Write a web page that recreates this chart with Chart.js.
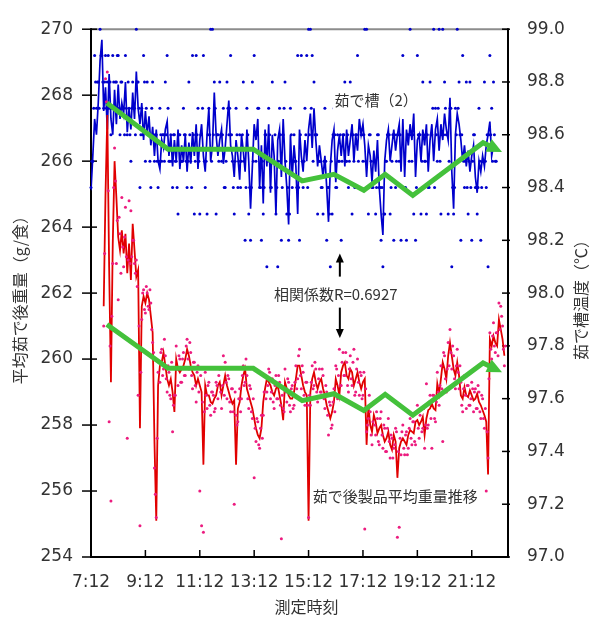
<!DOCTYPE html>
<html lang="ja">
<head>
<meta charset="utf-8">
<title>茹で槽温度と茹で後製品平均重量</title>
<script src="https://cdn.jsdelivr.net/npm/chart.js@4.4.1/dist/chart.umd.min.js"></script>
<style>
  html, body { margin: 0; padding: 0; background: #fff; }
  canvas { display: block; }
</style>
</head>
<body>
<canvas id="chart" width="595" height="621"></canvas>
<script>
// 茹で槽（2）温度: 4分ごとの移動平均
const tankStart = "7:12";
const tankStep = 4;
const tankLine = [
  98.39, 98.52, 98.66, 98.60, 98.72, 98.88, 98.96, 98.69, 98.78, 98.62,
  98.83, 98.66, 98.60, 98.77, 98.64, 98.79, 98.66, 98.72, 98.68, 98.80,
  98.61, 98.70, 98.62, 98.76, 98.66, 98.84, 98.70, 98.64, 98.72, 98.58,
  98.69, 98.60, 98.67, 98.56, 98.63, 98.52, 98.62, 98.50, 98.47, 98.58,
  98.55, 98.62, 98.65, 98.52, 98.60, 98.48, 98.58, 98.50, 98.62, 98.47,
  98.56, 98.50, 98.60, 98.46, 98.57, 98.49, 98.61, 98.52, 98.64, 98.47,
  98.58, 98.64, 98.52, 98.46, 98.60, 98.70, 98.50, 98.56, 98.76, 98.60,
  98.52, 98.58, 98.62, 98.49, 98.55, 98.64, 98.73, 98.56, 98.52, 98.44,
  98.58, 98.52, 98.43, 98.60, 98.54, 98.46, 98.62, 98.50, 98.32, 98.48,
  98.64, 98.58, 98.66, 98.40, 98.56, 98.34, 98.62, 98.48, 98.64, 98.38,
  98.60, 98.52, 98.30, 98.58, 98.62, 98.44, 98.66, 98.50, 98.40, 98.26,
  98.60, 98.44, 98.56, 98.48, 98.30, 98.62, 98.52, 98.46, 98.58, 98.50,
  98.62, 98.68, 98.55, 98.70, 98.58, 98.48, 98.56, 98.50, 98.44, 98.52,
  98.40, 98.27, 98.48, 98.58, 98.62, 98.42, 98.54, 98.60, 98.52, 98.60,
  98.48, 98.62, 98.52, 98.58, 98.64, 98.50, 98.60, 98.54, 98.66, 98.60,
  98.64, 98.56, 98.44, 98.56, 98.52, 98.42, 98.54, 98.46, 98.58, 98.40,
  98.30, 98.22, 98.50, 98.58, 98.62, 98.50, 98.56, 98.62, 98.54, 98.60,
  98.64, 98.46, 98.66, 98.44, 98.62, 98.56, 98.64, 98.58, 98.68, 98.44,
  98.58, 98.60, 98.50, 98.62, 98.56, 98.64, 98.46, 98.58, 98.64, 98.50,
  98.62, 98.66, 98.54, 98.64, 98.58, 98.68, 98.62, 98.58, 98.74, 98.46,
  98.32, 98.60, 98.68, 98.64, 98.58, 98.50, 98.56, 98.48, 98.54, 98.46,
  98.52, 98.56, 98.44, 98.38, 98.50, 98.46, 98.52, 98.48, 98.56, 98.60,
  98.65, 98.52, 98.56, 98.54
];

// 茹で槽（2）温度の測定値（0.1℃刻み）: 2系列を2分ずらして記録
const tankRawStartA = "7:12";
const tankRawA = [
  98.4, 98.5, 98.9, 98.7, 98.8, 99.0, 98.9, 98.7, 98.9, 98.8,
  98.7, 98.6, 98.9, 98.7, 98.8, 98.9, 98.6, 98.8, 98.7, 98.9,
  98.6, 98.7, 98.5, 98.8, 98.7, 99.0, 98.8, 98.4, 98.7, 98.9,
  98.5, 98.8, 98.6, 98.4, 98.8, 98.5, 98.6, 98.4, 98.7, 98.5,
  98.6, 98.8, 98.9, 98.5, 98.6, 98.4, 98.6, 98.5, 98.3, 98.6,
  98.5, 98.7, 98.6, 98.4, 98.8, 98.5, 98.9, 98.3, 98.9, 98.7,
  98.3, 98.6, 98.9, 98.4, 98.3, 98.7, 99.0, 99.0, 98.8, 98.3,
  98.6, 98.8, 98.5, 98.7, 98.4, 98.8, 98.6, 98.9, 98.5, 98.3,
  98.7, 98.4, 98.6, 98.5, 98.8, 98.2, 98.7, 98.3, 98.2, 98.8,
  98.9, 98.5, 98.7, 98.4, 98.2, 98.3, 98.6, 98.1, 98.7, 98.4,
  98.8, 98.5, 98.3, 98.1, 98.7, 98.2, 98.6, 98.8, 98.3, 98.2,
  98.7, 98.4, 98.6, 98.5, 98.9, 98.2, 98.9, 98.4, 98.7, 98.9,
  99.0, 99.0, 98.9, 98.8, 98.6, 98.3, 98.5, 98.4, 98.3, 98.7,
  98.2, 98.4, 98.1, 98.3, 98.7, 98.4, 98.6, 98.5, 98.2, 98.6,
  98.8, 98.5, 98.4, 98.8, 98.3, 98.5, 98.6, 98.9, 98.4, 98.6,
  98.5, 99.0, 99.0, 98.3, 98.6, 98.4, 98.5, 98.3, 98.6, 98.4,
  98.2, 98.1, 98.3, 98.5, 98.6, 98.3, 98.5, 98.2, 98.4, 98.6,
  98.5, 98.2, 98.9, 98.4, 98.2, 98.6, 99.0, 98.5, 98.3, 98.2,
  98.9, 98.6, 98.3, 98.8, 98.5, 98.3, 98.4, 98.8, 98.6, 99.0,
  98.7, 98.5, 99.0, 98.3, 99.0, 98.8, 98.6, 98.3, 98.7, 98.1,
  98.3, 98.7, 99.0, 98.8, 98.2, 98.9, 98.4, 98.8, 98.3, 98.8,
  98.2, 98.6, 98.4, 98.3, 98.7, 98.2, 98.5, 98.8, 98.4, 98.1,
  98.9, 98.7, 98.8, 98.5
];
const tankRawStartB = "7:14";
const tankRawB = [
  98.5, 98.7, 98.8, 98.8, 98.7, 98.9, 98.8, 98.8, 98.7, 98.9,
  98.8, 98.7, 98.8, 98.8, 98.9, 98.7, 98.8, 98.7, 98.6, 98.7,
  98.8, 98.6, 98.7, 98.7, 98.6, 98.8, 98.7, 98.6, 98.6, 98.8,
  98.7, 98.6, 98.5, 98.7, 98.6, 98.6, 98.5, 98.5, 98.6, 98.6,
  98.5, 98.6, 98.7, 98.5, 98.5, 98.6, 98.5, 98.4, 98.6, 98.5,
  98.5, 98.6, 98.5, 98.5, 98.6, 98.4, 98.6, 98.5, 98.6, 98.5,
  98.6, 98.7, 98.5, 98.5, 98.6, 98.6, 98.5, 98.6, 98.7, 98.6,
  98.5, 98.6, 98.6, 98.4, 98.5, 98.7, 98.7, 98.6, 98.4, 98.5,
  98.6, 98.5, 98.4, 98.6, 98.5, 98.4, 98.6, 98.4, 98.4, 98.5,
  98.6, 98.6, 98.7, 98.4, 98.5, 98.4, 98.6, 98.5, 98.6, 98.4,
  98.5, 98.6, 98.4, 98.5, 98.6, 98.4, 98.7, 98.5, 98.4, 98.3,
  98.6, 98.5, 98.5, 98.4, 98.4, 98.6, 98.5, 98.5, 98.6, 98.4,
  98.6, 98.7, 98.5, 98.6, 98.6, 98.5, 98.5, 98.4, 98.5, 98.5,
  98.4, 98.3, 98.5, 98.6, 98.6, 98.4, 98.5, 98.6, 98.5, 98.6,
  98.5, 98.6, 98.5, 98.6, 98.6, 98.4, 98.6, 98.5, 98.7, 98.6,
  98.6, 98.5, 98.4, 98.6, 98.5, 98.4, 98.5, 98.4, 98.6, 98.4,
  98.4, 98.3, 98.5, 98.6, 98.6, 98.4, 98.6, 98.6, 98.5, 98.6,
  98.6, 98.4, 98.7, 98.4, 98.6, 98.5, 98.6, 98.6, 98.7, 98.4,
  98.6, 98.6, 98.5, 98.6, 98.5, 98.6, 98.4, 98.6, 98.7, 98.4,
  98.6, 98.7, 98.5, 98.6, 98.6, 98.7, 98.6, 98.5, 98.7, 98.4,
  98.4, 98.6, 98.7, 98.6, 98.6, 98.5, 98.5, 98.4, 98.5, 98.4,
  98.5, 98.6, 98.4, 98.4, 98.5, 98.4, 98.5, 98.5, 98.6, 98.6,
  98.6, 98.5, 98.6, 98.5
];

// 茹で後製品平均重量: 4分ごとの移動平均
const weightStart = "7:40";
const weightStep = 4;
const weightLine = [
  261.6, 265.0, 267.4, 262.8, 259.3, 263.5, 266.0, 264.9, 263.7, 263.3,
  263.9, 263.2, 263.8, 262.6, 263.5, 262.4, 264.1, 263.3, 262.5, 262.7,
  257.9, 261.6, 261.9, 261.7, 262.0, 261.8, 261.3, 260.8, 257.5, 255.1,
  259.2, 259.8, 259.9, 260.2, 259.8, 259.4, 259.2, 259.4, 259.0, 258.4,
  260.0, 259.7, 259.6, 259.7, 259.8, 260.0, 260.3, 260.1, 259.8, 259.6,
  259.5, 259.2, 259.4, 259.2, 259.0, 256.8, 259.2, 258.9, 258.9, 258.7,
  258.65, 258.8, 258.9, 259.2, 259.3, 258.9, 259.2, 259.5, 259.2, 259.0,
  258.8, 258.65, 258.75, 256.8, 258.5, 258.7, 259.2, 259.5, 259.7, 259.1,
  258.9, 258.7, 258.5, 258.2, 257.9, 257.7, 257.6, 257.9, 258.7, 259.1,
  259.4, 259.3, 259.2, 259.0, 258.9, 259.1, 259.2, 258.9, 258.6, 258.15,
  259.3, 259.1, 258.9, 258.8, 258.8, 259.0, 259.4, 259.8, 259.8, 259.5,
  259.2, 259.0, 258.9, 255.1, 259.0, 259.4, 259.6, 259.3, 259.1, 259.3,
  259.4, 259.1, 258.9, 258.6, 258.4, 258.2, 258.4, 258.7, 259.4, 259.2,
  258.9, 259.6, 259.8, 259.9, 259.5, 259.4, 259.7, 259.6, 259.2, 259.4,
  259.6, 259.3, 259.1, 259.3, 259.4, 257.4, 258.6, 258.0, 257.8, 258.3,
  258.1, 257.75, 257.9, 258.0, 257.7, 257.5, 257.6, 257.8, 257.4, 257.25,
  257.7, 257.5, 256.4, 257.3, 257.5, 257.6, 257.5, 257.4, 257.7, 257.85,
  257.8, 257.75, 258.1, 258.15, 258.0, 258.1, 258.25, 257.7, 258.2, 258.45,
  258.5, 258.65, 258.5, 258.45, 259.25, 258.95, 259.4, 259.9, 259.7, 259.4,
  260.1, 260.5, 260.1, 259.7, 259.5, 259.9, 259.5, 258.9, 258.8, 259.15,
  258.9, 258.85, 259.05, 258.9, 258.75, 258.8, 258.95, 258.7, 258.6, 258.45,
  258.3, 258.1, 256.5, 260.6, 260.4, 260.7, 260.5, 260.4, 261.2, 260.9,
  260.6, 260.1
];

// 茹で後製品重量の測定値: 2系列を2分ずらして記録
const weightRawStartA = "7:40";
const weightRawA = [
  261.0, 268.5, 268.7, 258.1, 255.7, 262.9, 266.4, 262.9, 261.8, 263.8,
  264.9, 262.8, 264.6, 257.6, 264.8, 264.5, 263.6, 262.9, 263.0, 258.9,
  254.95, 261.2, 262.1, 261.4, 262.0, 261.5, 261.7, 260.5, 256.7, 255.2,
  259.6, 259.3, 260.3, 259.7, 260.1, 259.0, 259.6, 258.8, 257.8, 258.9,
  260.4, 259.2, 260.0, 259.3, 260.2, 259.5, 260.6, 259.7, 260.2, 259.1,
  259.9, 258.7, 259.8, 256.0, 254.95, 254.75, 259.6, 258.5, 259.3, 258.3,
  259.0, 258.4, 259.3, 258.8, 259.7, 258.5, 260.1, 259.9, 258.8, 259.4,
  258.4, 259.1, 255.6, 258.3, 258.1, 259.1, 258.8, 259.8, 259.3, 259.5,
  258.5, 259.1, 258.2, 256.4, 257.5, 258.1, 257.3, 258.3, 258.3, 259.5,
  259.0, 259.7, 258.8, 259.4, 258.5, 259.5, 258.8, 259.3, 254.55, 258.5,
  259.7, 258.7, 259.3, 258.4, 259.2, 258.6, 259.8, 259.4, 260.3, 259.1,
  259.6, 258.6, 259.3, 255.2, 258.6, 259.8, 259.2, 259.7, 258.7, 259.7,
  259.0, 259.5, 258.5, 259.0, 257.7, 258.6, 258.0, 259.1, 259.8, 258.8,
  260.3, 259.2, 260.2, 259.5, 259.9, 259.0, 260.1, 259.2, 260.3, 259.0,
  260.0, 258.9, 259.5, 258.9, 254.85, 257.8, 258.2, 258.4, 257.4, 258.7,
  257.7, 258.2, 257.4, 258.4, 257.3, 257.9, 257.2, 258.2, 257.0, 257.6,
  257.3, 257.9, 254.6, 254.9, 257.1, 258.0, 257.1, 257.8, 257.3, 258.2,
  257.4, 258.1, 257.4, 258.6, 257.6, 258.5, 257.9, 257.3, 259.25, 258.0,
  258.9, 257.3, 258.9, 258.1, 259.6, 258.6, 259.8, 257.5, 260.1, 259.0,
  260.5, 260.9, 259.7, 260.1, 259.1, 260.3, 259.1, 259.3, 258.4, 259.5,
  258.5, 259.2, 258.6, 259.3, 258.4, 259.1, 258.5, 259.0, 258.2, 258.8,
  257.9, 256.0, 257.0, 260.8, 260.0, 261.1, 260.2, 260.8, 261.7, 261.6,
  261.0, 259.8
];
const weightRawStartB = "7:42";
const weightRawB = [
  263.2, 267.8, 265.1, 260.4, 261.3, 265.2, 265.4, 264.2, 264.3, 262.6,
  263.4, 263.7, 263.1, 263.0, 262.9, 263.1, 263.6, 262.6, 262.2, 261.0,
  259.6, 262.0, 261.5, 262.2, 261.6, 262.1, 260.9, 260.2, 255.9, 257.6,
  259.9, 260.2, 259.5, 260.6, 259.4, 259.8, 258.9, 259.9, 258.6, 258.9,
  259.7, 260.1, 259.3, 260.0, 259.5, 260.4, 260.0, 260.5, 259.5, 259.9,
  259.2, 259.6, 259.0, 259.5, 258.7, 258.4, 258.9, 259.2, 258.6, 259.0,
  258.9, 258.5, 259.2, 259.5, 259.0, 259.2, 258.9, 259.3, 259.5, 258.7,
  259.1, 258.4, 259.0, 258.0, 258.8, 258.4, 259.5, 259.2, 260.0, 258.8,
  259.2, 258.4, 258.8, 257.9, 258.2, 257.4, 257.9, 257.6, 259.0, 258.8,
  259.2, 259.6, 259.0, 258.7, 259.2, 258.8, 259.5, 258.6, 258.9, 258.4,
  259.0, 259.4, 258.6, 259.1, 258.5, 259.3, 259.1, 260.1, 259.5, 259.8,
  258.9, 259.3, 258.6, 258.9, 259.3, 259.1, 259.9, 259.0, 259.4, 259.0,
  259.7, 258.8, 259.2, 258.3, 258.7, 257.9, 258.7, 258.4, 259.7, 259.5,
  259.2, 259.9, 259.5, 260.2, 259.2, 259.7, 259.4, 259.9, 258.9, 259.7,
  259.3, 259.6, 258.8, 259.6, 259.1, 258.0, 258.9, 257.7, 258.1, 258.0,
  258.4, 257.5, 258.2, 257.7, 258.0, 257.2, 257.9, 257.5, 257.7, 257.0,
  257.4, 257.8, 257.2, 257.6, 257.8, 257.3, 257.7, 257.1, 257.9, 257.6,
  258.1, 257.5, 258.4, 257.9, 258.3, 257.8, 258.5, 258.0, 257.9, 258.7,
  258.2, 258.9, 258.2, 258.7, 259.0, 259.2, 259.1, 260.2, 259.4, 259.7,
  259.8, 260.2, 260.4, 259.4, 259.8, 259.6, 259.8, 258.6, 259.1, 258.9,
  259.2, 258.6, 258.8, 259.1, 259.0, 258.5, 259.2, 258.4, 258.9, 258.2,
  258.5, 257.8, 259.4, 260.3, 260.7, 260.4, 260.8, 260.1, 260.9, 261.3,
  260.3, 260.4
];
const rawStep = 4;

// 傾向線（緑）
const trendTimes = ["7:47", "10:02", "13:10", "14:58", "16:08", "17:14", "18:01", "19:02", "21:37", "22:01"];
const tankTrend = [98.72, 98.545, 98.545, 98.425, 98.45, 98.39, 98.45, 98.37, 98.57, 98.55];
const weightTrend = [261.05, 259.72, 259.72, 258.74, 258.95, 258.44, 258.93, 258.30, 259.88, 259.72];

// 目盛り
const timeTicks = ["7:12", "9:12", "11:12", "13:12", "15:12", "17:12", "19:12", "21:12"];
const weightTicks = [254, 256, 258, 260, 262, 264, 266, 268, 270];
const tempTicks = [97.0, 97.2, 97.4, 97.6, 97.8, 98.0, 98.2, 98.4, 98.6, 98.8, 99.0];
const timeMin = "7:12";
const timeMax = "22:32";

const toMin = t => { const [h, m] = t.split(":").map(Number); return h * 60 + m; };
const hhmm = v => Math.floor(v / 60) + ":" + String(Math.round(v % 60)).padStart(2, "0");
const series = (start, step, values) => values.map((v, i) => ({ x: toMin(start) + i * step, y: v }));
const pairs = (times, values) => values.map((v, i) => ({ x: toMin(times[i]), y: v }));

// 注記（データ座標で配置）
const notes = [
  { text: "茹で槽（2）", at: "17:41", value: 98.73, axis: "t" },
  { text: "相関係数R=0.6927", at: "16:12", value: 261.97, axis: "w" },
  { text: "茹で後製品平均重量推移", at: "18:23", value: 255.84, axis: "w" }
];
const pointers = [
  { at: "16:21", from: 262.5, to: 263.2 },
  { at: "16:21", from: 261.56, to: 260.64 }
];

const GREEN = "#44c13b";
const BLUE = "#0000cc";
const RED = "#e10000";
const PINK = "#ec1b7f";
const TEXT = "#333";
const CJK = '"Noto Sans CJK JP", sans-serif';
const NUM = '"DejaVu Sans", sans-serif';

function seg(ctx, x1, y1, x2, y2) {
  ctx.beginPath();
  ctx.moveTo(x1, y1);
  ctx.lineTo(x2, y2);
  ctx.stroke();
}

const decor = {
  id: "decor",
  beforeDatasetsDraw(chart) {
    const { ctx, chartArea: a, scales } = chart;
    ctx.save();
    ctx.lineWidth = 2;
    ctx.strokeStyle = "#8c8c8c";
    seg(ctx, a.left, a.top, a.right, a.top);
    ctx.strokeStyle = "#000";
    seg(ctx, a.left, a.top - 1, a.left, a.bottom + 1);
    seg(ctx, a.right, a.top - 1, a.right, a.bottom + 1);
    seg(ctx, a.left - 1, a.bottom, a.right + 1, a.bottom);
    ctx.lineWidth = 1.5;
    weightTicks.forEach(v => {
      const y = scales.w.getPixelForValue(v);
      seg(ctx, a.left - 9, y, a.left + 6, y);
    });
    tempTicks.forEach(v => {
      const y = scales.t.getPixelForValue(v);
      seg(ctx, a.right - 6, y, a.right + 2, y);
    });
    timeTicks.forEach(t => {
      const x = scales.x.getPixelForValue(toMin(t));
      seg(ctx, x, a.bottom, x, a.bottom - 7);
    });
    ctx.restore();
  },
  afterDatasetsDraw(chart) {
    const { ctx, chartArea: a, scales } = chart;
    ctx.save();

    // 傾向線の矢じり
    chart.data.datasets.forEach((ds, i) => {
      if (!ds.arrow) return;
      const pts = chart.getDatasetMeta(i).data;
      const p = pts[pts.length - 1], q = pts[pts.length - 2];
      const ang = Math.atan2(p.y - q.y, p.x - q.x);
      ctx.save();
      ctx.translate(p.x, p.y);
      ctx.rotate(ang);
      ctx.beginPath();
      ctx.moveTo(9, 0);
      ctx.lineTo(-6, -7);
      ctx.lineTo(-6, 7);
      ctx.closePath();
      ctx.fillStyle = ds.borderColor;
      ctx.fill();
      ctx.restore();
    });

    // 注記ラベル（白地）
    ctx.font = "15px " + CJK;
    ctx.textAlign = "center";
    ctx.textBaseline = "middle";
    notes.forEach(n => {
      const x = scales.x.getPixelForValue(toMin(n.at));
      const y = scales[n.axis].getPixelForValue(n.value);
      const w = ctx.measureText(n.text).width;
      ctx.fillStyle = "#fff";
      ctx.fillRect(x - w / 2 - 2, y - 10, w + 4, 20);
      ctx.fillStyle = TEXT;
      ctx.fillText(n.text, x, y);
    });

    // 相関の矢印
    ctx.strokeStyle = "#000";
    ctx.fillStyle = "#000";
    ctx.lineWidth = 2;
    pointers.forEach(p => {
      const x = scales.x.getPixelForValue(toMin(p.at));
      const y1 = scales.w.getPixelForValue(p.from);
      const y2 = scales.w.getPixelForValue(p.to);
      const dir = Math.sign(y2 - y1);
      seg(ctx, x, y1, x, y2 - dir * 6);
      ctx.beginPath();
      ctx.moveTo(x, y2);
      ctx.lineTo(x - 4, y2 - dir * 9);
      ctx.lineTo(x + 4, y2 - dir * 9);
      ctx.closePath();
      ctx.fill();
    });

    // 軸タイトル
    ctx.fillStyle = TEXT;
    ctx.font = "16px " + CJK;
    const midY = (a.top + a.bottom) / 2;
    ctx.save();
    ctx.translate(20, midY + 3);
    ctx.rotate(-Math.PI / 2);
    ctx.fillText("平均茹で後重量（g/食）", 0, 0);
    ctx.restore();
    ctx.save();
    ctx.translate(a.right + 73, midY + 3);
    ctx.rotate(-Math.PI / 2);
    ctx.fillText("茹で槽温度（℃）", 0, 0);
    ctx.restore();
    ctx.fillText("測定時刻", (a.left + a.right) / 2 + 7, a.bottom + 50);

    ctx.restore();
  }
};

const dots = (points, axis, color, order) => ({
  data: points, yAxisID: axis, showLine: false,
  pointRadius: 1.5, pointBorderWidth: 0, pointBackgroundColor: color, clip: false, order
});

new Chart(document.getElementById("chart"), {
  type: "scatter",
  data: {
    datasets: [
      {
        data: pairs(trendTimes, tankTrend), yAxisID: "t", showLine: true,
        borderColor: GREEN, borderWidth: 5, pointRadius: 0, arrow: true, order: 0
      },
      {
        data: pairs(trendTimes, weightTrend), yAxisID: "w", showLine: true,
        borderColor: GREEN, borderWidth: 5, pointRadius: 0, arrow: true, order: 1
      },
      dots(series(weightRawStartA, rawStep, weightRawA), "w", PINK, 2),
      dots(series(weightRawStartB, rawStep, weightRawB), "w", PINK, 2),
      {
        data: series(weightStart, weightStep, weightLine), yAxisID: "w", showLine: true,
        borderColor: RED, borderWidth: 1.8, pointRadius: 0, order: 3
      },
      {
        data: series(tankStart, tankStep, tankLine), yAxisID: "t", showLine: true,
        borderColor: BLUE, borderWidth: 1.7, pointRadius: 0, order: 4
      },
      dots(series(tankRawStartA, rawStep, tankRawA), "t", BLUE, 5),
      dots(series(tankRawStartB, rawStep, tankRawB), "t", BLUE, 5)
    ]
  },
  options: {
    responsive: false,
    animation: false,
    layout: { padding: { top: 17, left: 0, right: 0, bottom: 0 } },
    plugins: { legend: { display: false }, tooltip: { enabled: false } },
    elements: { line: { tension: 0 } },
    scales: {
      x: {
        type: "linear",
        min: toMin(timeMin),
        max: toMin(timeMax),
        afterBuildTicks: s => { s.ticks = timeTicks.map(t => ({ value: toMin(t) })); },
        afterFit: s => { s.height = 64; },
        grid: { display: false, drawTicks: false },
        border: { display: false },
        ticks: {
          callback: v => hhmm(v), autoSkip: false, maxRotation: 0,
          padding: 15, color: TEXT, font: { family: NUM, size: 17 }
        }
      },
      w: {
        position: "left",
        min: 254, max: 270,
        afterBuildTicks: s => { s.ticks = weightTicks.map(v => ({ value: v })); },
        afterFit: s => { s.width = 91; },
        grid: { display: false, drawTicks: false },
        border: { display: false },
        ticks: { padding: 18, color: TEXT, font: { family: NUM, size: 17 } }
      },
      t: {
        position: "right",
        min: 97, max: 99,
        afterBuildTicks: s => { s.ticks = tempTicks.map(v => ({ value: v })); },
        afterFit: s => { s.width = 87; },
        grid: { display: false, drawTicks: false },
        border: { display: false },
        ticks: {
          callback: v => v.toFixed(1), padding: 19, color: TEXT,
          font: { family: NUM, size: 17 }
        }
      }
    }
  },
  plugins: [decor]
});
</script>
</body>
</html>
